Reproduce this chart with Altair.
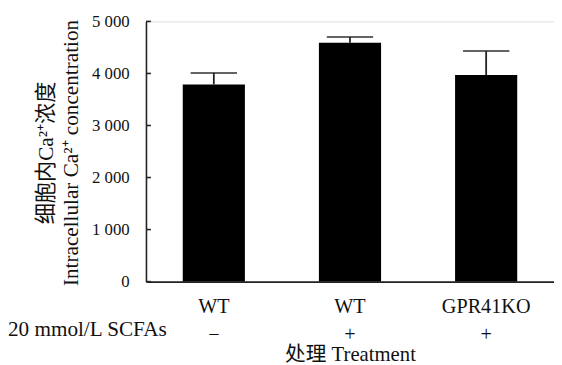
import altair as alt
import pandas as pd

# Data
groups = ["WT|−", "WT|+", "GPR41KO|+"]
means = [3790, 4590, 3970]
errors = [220, 110, 460]
y_ticks = [0, 1000, 2000, 3000, 4000, 5000]

df = pd.DataFrame({"group": groups, "mean": means, "err": errors})
df["upper"] = df["mean"] + df["err"]
ticks_df = pd.DataFrame({"v": y_ticks})

FONT = "'Liberation Serif', 'Noto Sans CJK SC', serif"
INK = "#222222"

xscale = alt.Scale(paddingInner=0.5435, paddingOuter=0.27)
yscale = alt.Scale(domain=[0, 5000], nice=False)

x_enc = alt.X(
    "group:N",
    sort=None,
    scale=xscale,
    axis=alt.Axis(
        title="处理 Treatment",
        titleFont=FONT,
        titleFontSize=21,
        titleFontWeight="normal",
        titleColor="#111111",
        titleY=80,
        titleBaseline="alphabetic",
        labelExpr="split(datum.label, '|')",
        labelAngle=0,
        labelFont=FONT,
        labelFontSize=20.5,
        labelColor="#111111",
        labelLineHeight=29,
        labelPadding=15,
        ticks=False,
        tickSize=0,
        domainColor=INK,
        domainWidth=1.6,
    ),
)

y_enc = alt.Y(
    "mean:Q",
    scale=yscale,
    axis=alt.Axis(
        title=["细胞内Ca²⁺浓度", "Intracellular Ca²⁺ concentration"],
        titleFont=FONT,
        titleFontSize=21.5,
        titleFontWeight="normal",
        titleColor="#111111",
        titleAngle=-90,
        titleX=-95,
        titleY=133,
        titleAlign="center",
        titleBaseline="alphabetic",
        titleLineHeight=26,
        values=y_ticks,
        labelExpr="replace(format(datum.value, ','), ',', ' ')",
        labelFont=FONT,
        labelFontSize=17,
        labelColor="#111111",
        labelPadding=17,
        ticks=False,
        tickSize=0,
        grid=False,
        domainColor=INK,
        domainWidth=1.6,
    ),
)

base = alt.Chart(df)

bars = base.mark_bar(color="black").encode(x=x_enc, y=y_enc)

err_rule = base.mark_rule(color=INK, strokeWidth=1.8).encode(
    x=alt.X("group:N", sort=None, scale=xscale),
    y=alt.Y("mean:Q", scale=yscale),
    y2="upper:Q",
)

err_cap = base.mark_tick(color=INK, thickness=2, size=47).encode(
    x=alt.X("group:N", sort=None, scale=xscale),
    y=alt.Y("upper:Q", scale=yscale),
)

inner_ticks = alt.Chart(ticks_df).mark_rule(color=INK, strokeWidth=1.6).encode(
    y=alt.Y("v:Q", scale=yscale),
    x=alt.value(0),
    x2=alt.value(5),
)

scfa_label = alt.Chart(pd.DataFrame({"t": ["20 mmol/L SCFAs"]})).mark_text(
    font=FONT, fontSize=21.5, align="left", baseline="alphabetic", color="#111111"
).encode(
    text="t:N",
    x=alt.value(-140),
    y=alt.value(319),
)

chart = (
    alt.layer(bars, err_rule, err_cap, inner_ticks, scfa_label)
    .properties(
        width=414,
        height=264,
        autosize=alt.AutoSizeParams(type="none"),
        padding={"left": 140, "top": 11, "right": 0, "bottom": 82},
    )
    .configure_view(stroke=None)
    .configure(background="white", font=FONT)
)

chart.save("out.html", embed_options={"renderer": "svg", "actions": False})
